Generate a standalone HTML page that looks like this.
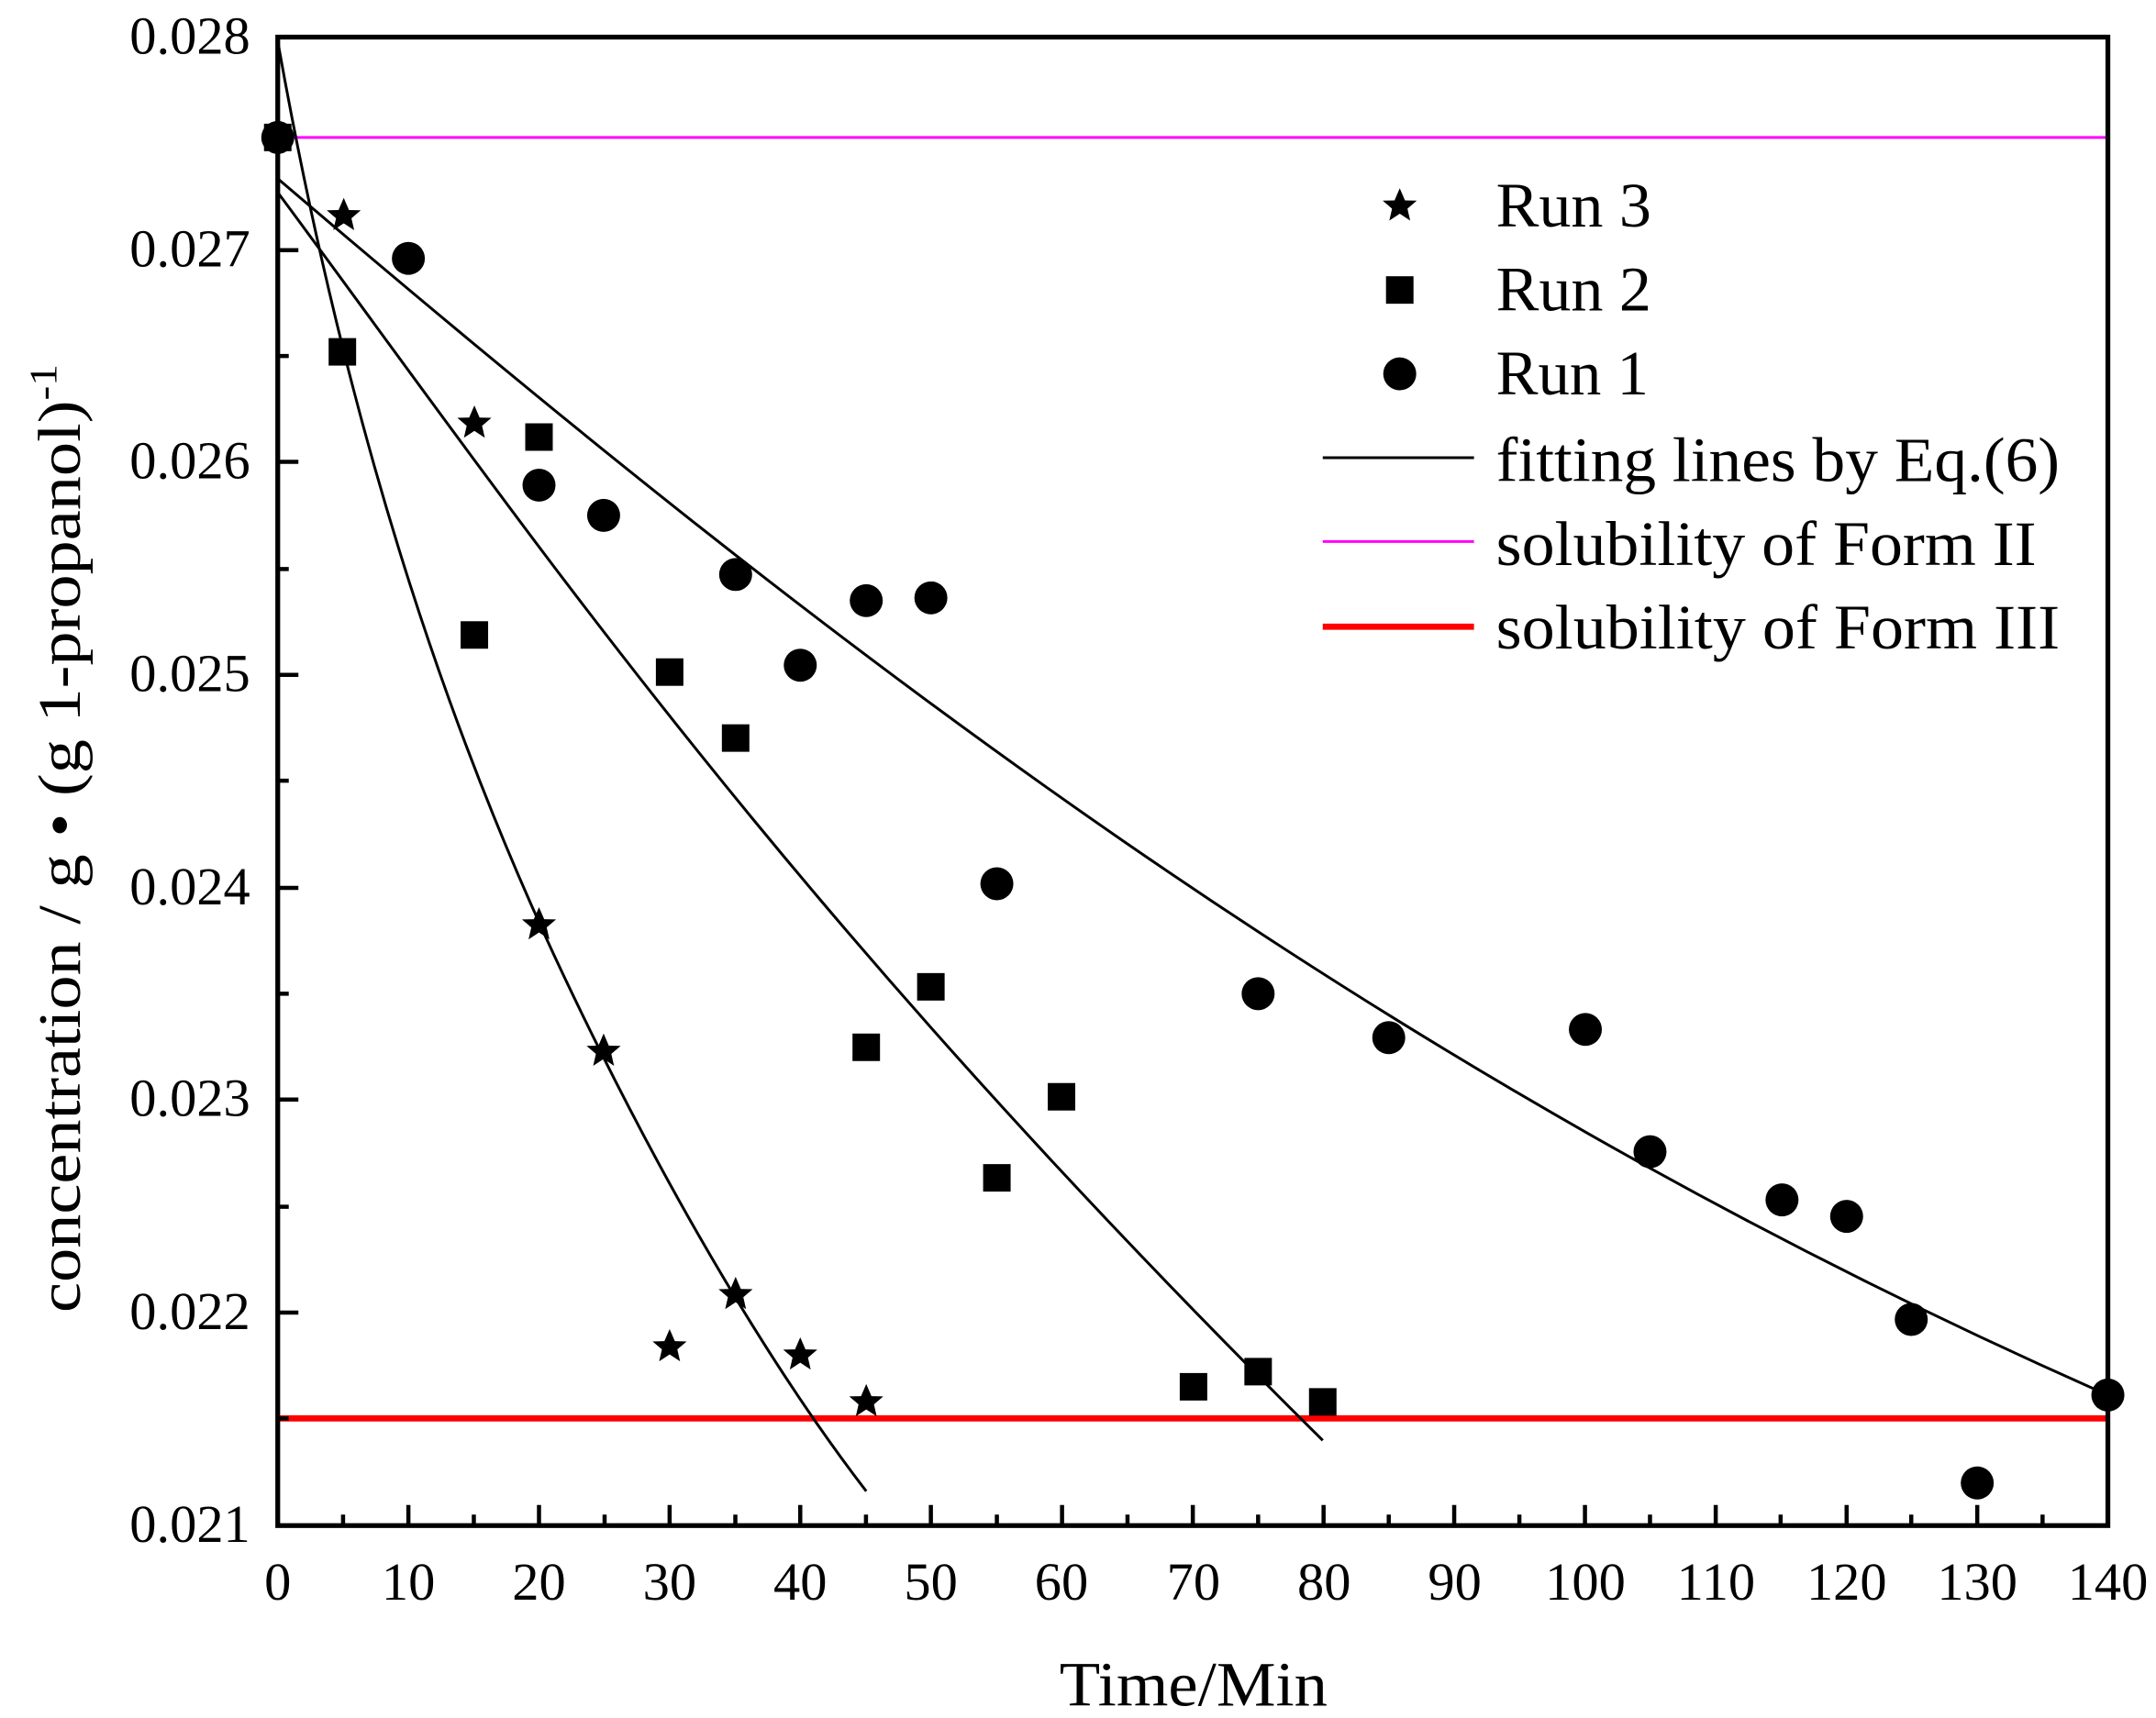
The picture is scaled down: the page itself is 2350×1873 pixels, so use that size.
<!DOCTYPE html>
<html><head><meta charset="utf-8"><style>html,body{margin:0;padding:0;background:#fff}svg{display:block}</style></head>
<body>
<svg width="2350" height="1873" viewBox="0 0 1568 1250" preserveAspectRatio="none" xmlns="http://www.w3.org/2000/svg" font-family="Liberation Serif, serif">
<defs>
<polygon id="st" points="0,-13 3.8,-4.2 12.4,-4 5.6,1.8 7.6,10.5 0,5.5 -7.6,10.5 -5.6,1.8 -12.4,-4 -3.8,-4.2" fill="#000"/>
<rect id="sq" x="-10" y="-10" width="20" height="20" fill="#000"/>
<circle id="ci" r="12" fill="#000"/>
</defs>
<line x1="202" y1="100" x2="1533" y2="100" stroke="#ff00ff" stroke-width="2"/>
<line x1="202" y1="1032" x2="1533" y2="1032" stroke="#ff0000" stroke-width="4.5"/>
<g fill="none" stroke="#000" stroke-width="2">
<path d="M202,30 C 250,300 320,520 410,710 C 500,900 580,1020 630,1085"/>
<path d="M202,140 C 380,380 560,650 962,1048"/>
<path d="M202,130 C 600,470 1000,780 1533,1015"/>
</g>
<g>
<use href="#ci" x="202" y="100"/><use href="#sq" x="202" y="100"/>
<use href="#st" x="250" y="157"/><use href="#st" x="345" y="308"/><use href="#st" x="392" y="673"/><use href="#st" x="439" y="765"/><use href="#st" x="487" y="980"/><use href="#st" x="535" y="942"/><use href="#st" x="582" y="986"/><use href="#st" x="630" y="1020"/>
<use href="#sq" x="249" y="256"/><use href="#sq" x="345" y="462"/><use href="#sq" x="392" y="318"/><use href="#sq" x="487" y="489"/><use href="#sq" x="535" y="537"/><use href="#sq" x="630" y="762"/><use href="#sq" x="677" y="718"/><use href="#sq" x="725" y="857"/><use href="#sq" x="772" y="798"/><use href="#sq" x="868" y="1009"/><use href="#sq" x="915" y="998"/><use href="#sq" x="962" y="1020"/>
<use href="#ci" x="297" y="188"/><use href="#ci" x="392" y="353"/><use href="#ci" x="439" y="375"/><use href="#ci" x="535" y="418"/><use href="#ci" x="582" y="484"/><use href="#ci" x="630" y="437"/><use href="#ci" x="677" y="435"/><use href="#ci" x="725" y="643"/><use href="#ci" x="915" y="723"/><use href="#ci" x="1010" y="755"/><use href="#ci" x="1153" y="749"/><use href="#ci" x="1200" y="838"/><use href="#ci" x="1296" y="873"/><use href="#ci" x="1343" y="885"/><use href="#ci" x="1390" y="960"/><use href="#ci" x="1438" y="1079"/><use href="#ci" x="1533" y="1015"/>
</g>
<g stroke="#000" stroke-width="3">
<path d="M202,27h15M202,104h8M202,182h15M202,259h8M202,336h15M202,414h8M202,491h15M202,568h8M202,646h15M202,723h8M202,800h15M202,878h8M202,955h15M202,1032h8"/>
<path d="M249.5,1110v-8M297,1110v-15M344.6,1110v-8M392,1110v-15M439.7,1110v-8M487,1110v-15M534.8,1110v-8M582,1110v-15M629.8,1110v-8M677,1110v-15M725,1110v-8M772.4,1110v-15M820,1110v-8M867.5,1110v-15M915,1110v-8M962.6,1110v-15M1010,1110v-8M1057.6,1110v-15M1105,1110v-8M1152.7,1110v-15M1200,1110v-8M1247.8,1110v-15M1295,1110v-8M1343,1110v-15M1390,1110v-8M1438,1110v-15M1485.5,1110v-8"/>
</g>
<rect x="202" y="27" width="1331" height="1083" fill="none" stroke="#000" stroke-width="3.5"/>
<g font-size="39" text-anchor="end">
<text x="182" y="39">0.028</text><text x="182" y="194">0.027</text><text x="182" y="348">0.026</text><text x="182" y="503">0.025</text><text x="182" y="658">0.024</text><text x="182" y="812">0.023</text><text x="182" y="967">0.022</text><text x="182" y="1122">0.021</text>
</g>
<g font-size="39" text-anchor="middle">
<text x="202" y="1164">0</text><text x="297" y="1164">10</text><text x="392" y="1164">20</text><text x="487" y="1164">30</text><text x="582" y="1164">40</text><text x="677" y="1164">50</text><text x="772" y="1164">60</text><text x="868" y="1164">70</text><text x="963" y="1164">80</text><text x="1058" y="1164">90</text><text x="1153" y="1164">100</text><text x="1248" y="1164">110</text><text x="1343" y="1164">120</text><text x="1438" y="1164">130</text><text x="1533" y="1164">140</text>
</g>
<text x="868" y="1241" font-size="46" text-anchor="middle" textLength="195" lengthAdjust="spacingAndGlyphs">Time/Min</text>
<text transform="translate(58,610) rotate(-90)" font-size="44" text-anchor="middle" textLength="690" lengthAdjust="spacingAndGlyphs">concentration / g • (g 1-propanol)<tspan dy="-17" font-size="28">-1</tspan></text>
<use href="#st" x="1018" y="150"/><use href="#sq" x="1018" y="211"/><use href="#ci" x="1018" y="272"/>
<line x1="962" y1="333" x2="1072" y2="333" stroke="#000" stroke-width="2"/>
<line x1="962" y1="394" x2="1072" y2="394" stroke="#ff00ff" stroke-width="2"/>
<line x1="962" y1="456" x2="1072" y2="456" stroke="#ff0000" stroke-width="4.5"/>
<g font-size="46">
<text x="1088" y="165" textLength="113" lengthAdjust="spacingAndGlyphs">Run 3</text>
<text x="1088" y="226" textLength="113" lengthAdjust="spacingAndGlyphs">Run 2</text>
<text x="1088" y="287" textLength="111" lengthAdjust="spacingAndGlyphs">Run 1</text>
<text x="1088" y="350" textLength="410" lengthAdjust="spacingAndGlyphs">fitting lines by Eq.(6)</text>
<text x="1088" y="411" textLength="393" lengthAdjust="spacingAndGlyphs">solubility of Form II</text>
<text x="1088" y="472" textLength="410" lengthAdjust="spacingAndGlyphs">solubility of Form III</text>
</g>
</svg>
</body></html>
